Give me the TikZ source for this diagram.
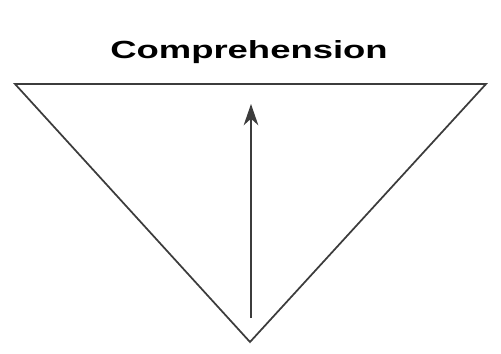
\documentclass[tikz,border=0pt]{standalone}
\usepackage{fontspec}
\setmainfont{Liberation Sans}
\usetikzlibrary{arrows.meta}

\tikzset{
  edge/.style={color={rgb, 255:red, 60; green, 60; blue, 60 }, line width=1.3pt, line join=miter},
}

\begin{document}
\begin{tikzpicture}[x=0.75pt,y=0.75pt,yscale=-1,xscale=1]
\useasboundingbox (0,0) rectangle (501,354);

%Vertices
\coordinate (topL) at (15,84);
\coordinate (topR) at (486,84);
\coordinate (apex) at (250,342);
%Arrow ends
\coordinate (arrowFoot) at (251,318);
\coordinate (arrowTip) at (251,104);

%Triangle
\draw [edge]   (topL) -- (topR) -- (apex) -- cycle ;
%Straight Lines
\draw [edge, line width=1.1pt, -{Stealth[length=16pt,width=11pt,inset=5pt]}]   (arrowFoot) -- (arrowTip) ;

% Text Node
\node (title) at (249,58) [anchor=base][inner sep=0.75pt]   {\scalebox{1.47}[1]{\fontsize{18.6}{22}\selectfont\bfseries Comprehension}};

\end{tikzpicture}
\end{document}
